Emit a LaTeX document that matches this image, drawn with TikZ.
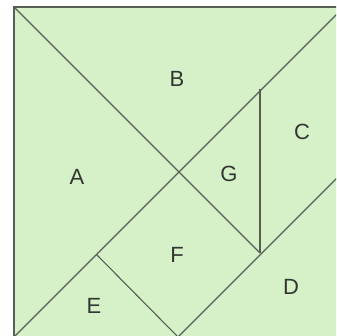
\documentclass[tikz,border=0pt]{standalone}
\usepackage{fontspec}
\setmainfont{Liberation Sans}
\definecolor{tanbg}{RGB}{214,240,200}
\definecolor{tanline}{RGB}{85,95,85}
\definecolor{tantext}{RGB}{50,55,50}
\begin{document}
\begin{tikzpicture}[x=1pt,y=1pt,
  piece/.style={draw=tanline,line width=1.1pt,line join=miter},
  lbl/.style={font=\fontsize{22}{24}\selectfont,text=tantext,inner sep=0pt}]
\useasboundingbox (0,0) rectangle (336,336);
\clip (0,0) rectangle (336,336);
\fill[white] (0,0) rectangle (336,336);
% tangram corner points
\coordinate (p00) at (14,-1);
\coordinate (p04) at (14,329);
\coordinate (p44) at (344,329);
\coordinate (p31) at (260,83);
\coordinate (p33) at (260,246.5);
\coordinate (p20) at (178,-1);
\coordinate (p42) at (344,165);
\coordinate (p11) at (96.5,81.5);
\fill[tanbg] (p00) rectangle (p44);
\draw[piece] (p00) rectangle (p44);
\draw[piece] (p00) -- (p44);
\draw[piece] (p04) -- (p31);
\draw[piece] (p33) -- (p31);
\draw[piece] (p20) -- (p42);
\draw[piece] (p11) -- (p20);
% labels
\node[lbl] (lA) at (77,159) {A};
\node[lbl] (lB) at (177,257) {B};
\node[lbl] (lC) at (302,204) {C};
\node[lbl] (lD) at (291,49) {D};
\node[lbl] (lE) at (94,30) {E};
\node[lbl] (lF) at (177,81) {F};
\node[lbl] (lG) at (229,162) {G};
\end{tikzpicture}
\end{document}
